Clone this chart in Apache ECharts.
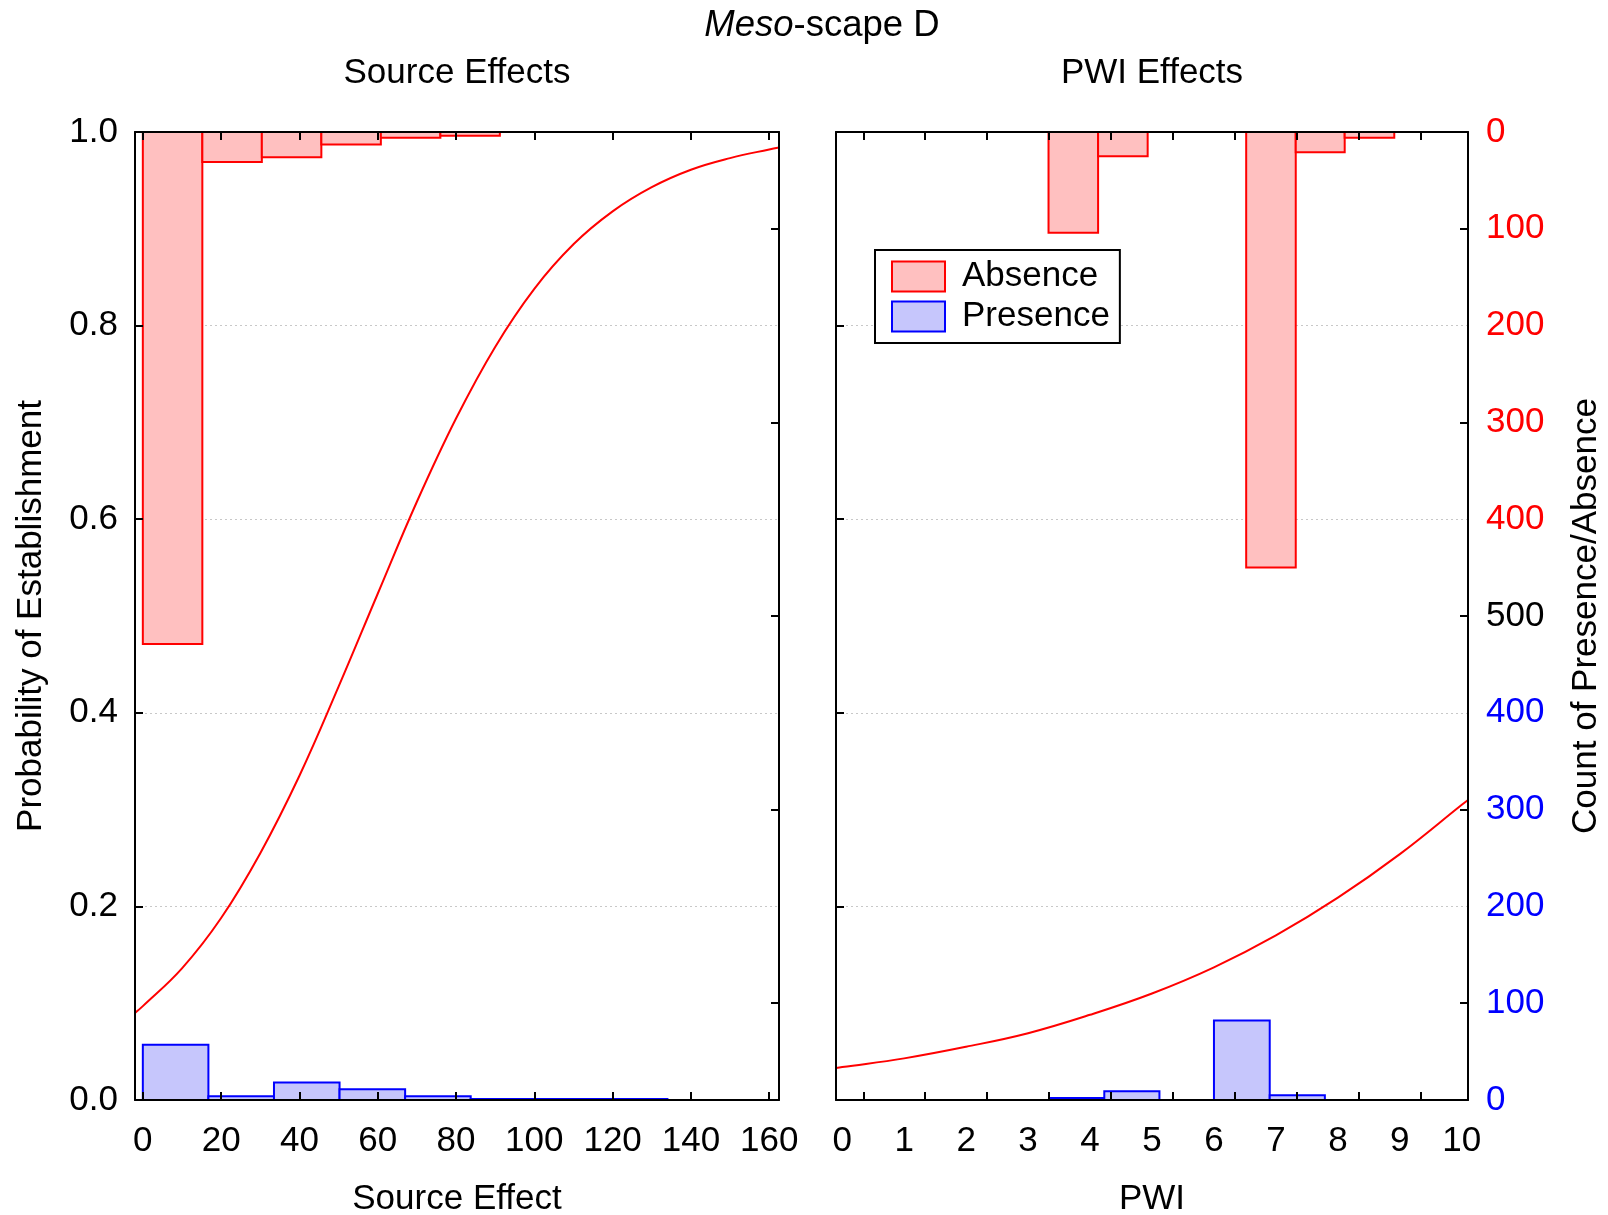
<!DOCTYPE html>
<html>
<head>
<meta charset="utf-8">
<script src="https://cdn.jsdelivr.net/npm/echarts@6/dist/echarts.min.js"></script>
<style>
html,body{margin:0;padding:0;background:#fff;}
#c{width:1608px;height:1215px;}
</style>
</head>
<body>
<div id="c"></div>
<script>
// ---- data ----
const srcAbsEdges = [0, 15.2, 30.4, 45.6, 60.8, 76.0, 91.2];
const srcAbsCounts = [529, 31, 26, 13, 6, 4];
const srcPresEdges = [0, 16.75, 33.5, 50.25, 67.0, 83.75, 100.5, 117.25, 134.0];
const srcPresCounts = [57, 4, 18, 11, 4, 1, 1, 1];

const pwiAbsEdges = [3.33, 4.13, 4.93, 5.72, 6.52, 7.32, 8.11, 8.91];
const pwiAbsCounts = [104, 25, 0, 0, 450, 21, 6];
const pwiPresEdges = [3.35, 4.23, 5.12, 6.0, 6.9, 7.79];
const pwiPresCounts = [2, 9, 0, 82, 5];

const srcCurveX = [-2, 0, 10, 20, 30, 40, 50, 60, 70, 80, 90, 100, 110, 120, 130, 140, 150, 160, 162.5];
const srcCurveY = [0.090, 0.097, 0.136, 0.188, 0.255, 0.335, 0.427, 0.523, 0.618, 0.704, 0.778, 0.838, 0.884, 0.918, 0.943, 0.961, 0.973, 0.982, 0.984];
const pwiCurveX = [-0.1, 0, 1, 2, 3, 4, 5, 6, 7, 8, 9, 10, 10.1];
const pwiCurveY = [0.033, 0.034, 0.043, 0.055, 0.069, 0.088, 0.110, 0.137, 0.170, 0.209, 0.254, 0.305, 0.310];

const srcTicks = [0, 20, 40, 60, 80, 100, 120, 140, 160];
const pwiLabels = [0, 1, 2, 3, 4, 5, 6, 7, 8, 9, 10];
const pwiTicks = [0.34, 1.34, 2.34, 3.34, 4.34, 5.34, 6.34, 7.34, 8.34, 9.34];
const countLabels = [0, 100, 200, 300, 400, 500, 600, 700, 800, 900, 1000];
const countTicks = [100, 300, 500, 700, 900];
const probTicks = [0.2, 0.4, 0.6, 0.8];

// ---- chart ----
const F = "'Liberation Sans', Arial, Helvetica, sans-serif";
const FS = 35;
const RED = '#ff0000', BLUE = '#0000ff';
const RED_FILL = 'rgb(255,192,192)', BLUE_FILL = 'rgb(198,198,252)';

const chart = echarts.init(document.getElementById('c'), null, {renderer: 'canvas'});

function bins(edges, counts) { return counts.map((c, i) => [edges[i], edges[i + 1], c]); }
function rectItem(params, api) {
  const c = api.value(2);
  if (!c) return null;
  const a = api.coord([api.value(0), 0]);
  const b = api.coord([api.value(1), c]);
  return {
    type: 'rect',
    shape: {x: a[0], y: Math.min(a[1], b[1]), width: b[0] - a[0], height: Math.abs(b[1] - a[1])},
    style: api.style()
  };
}
const lineBlack = {show: true, lineStyle: {color: '#000', width: 2}};
const tickIn = (vals) => ({show: true, inside: true, length: 8, customValues: vals, lineStyle: {color: '#000', width: 2}});

const grids = [
  {left: 135, top: 132, width: 644, height: 968, outerBoundsMode: 'none', containLabel: false},
  {left: 836, top: 132, width: 632, height: 968, outerBoundsMode: 'none', containLabel: false}
];

const xAxes = [
  {gridIndex: 0, type: 'value', position: 'bottom', min: -2, max: 162.5, z: 10,
   axisLine: Object.assign({onZero: false}, lineBlack), axisTick: tickIn(srcTicks),
   axisLabel: {customValues: srcTicks, fontSize: FS, fontFamily: F, color: '#000', margin: 24},
   splitLine: {show: false},
   name: 'Source Effect', nameLocation: 'middle', nameGap: 82,
   nameTextStyle: {fontSize: FS, fontFamily: F, color: '#000'}},
  {gridIndex: 0, type: 'value', position: 'top', min: -2, max: 162.5, z: 10,
   axisLine: Object.assign({onZero: false}, lineBlack), axisTick: tickIn(srcTicks),
   axisLabel: {show: false}, splitLine: {show: false}},
  {gridIndex: 1, type: 'value', position: 'bottom', min: -0.1, max: 10.1, z: 10,
   axisLine: Object.assign({onZero: false}, lineBlack), axisTick: tickIn(pwiTicks),
   axisLabel: {customValues: pwiLabels, fontSize: FS, fontFamily: F, color: '#000', margin: 24},
   splitLine: {show: false},
   name: 'PWI', nameLocation: 'middle', nameGap: 82,
   nameTextStyle: {fontSize: FS, fontFamily: F, color: '#000'}},
  {gridIndex: 1, type: 'value', position: 'top', min: -0.1, max: 10.1, z: 10,
   axisLine: Object.assign({onZero: false}, lineBlack), axisTick: tickIn(pwiTicks),
   axisLabel: {show: false}, splitLine: {show: false}}
];

function countColor(v) {
  v = Number(v);
  if (v < 500) return RED;
  if (v === 500) return '#000';
  return BLUE;
}

const yAxes = [
  {gridIndex: 0, type: 'value', position: 'left', min: 0, max: 1, z: 10,
   axisLine: Object.assign({onZero: false}, lineBlack), axisTick: tickIn(probTicks),
   axisLabel: {customValues: [0, 0.2, 0.4, 0.6, 0.8, 1.0], formatter: v => Number(v).toFixed(1),
               fontSize: FS, fontFamily: F, color: '#000', margin: 17, padding: [3, 0, 0, 0]},
   splitLine: {show: false},
   name: 'Probability of Establishment', nameLocation: 'middle', nameGap: 86, nameRotate: 90,
   nameTextStyle: {fontSize: FS, fontFamily: F, color: '#000'}},
  {gridIndex: 0, type: 'value', position: 'right', min: 0, max: 1000, inverse: true, z: 10,
   axisLine: Object.assign({onZero: false}, lineBlack), axisTick: tickIn(countTicks),
   axisLabel: {show: false}, splitLine: {show: false}},
  {gridIndex: 0, type: 'value', position: 'left', min: 0, max: 1000, interval: 200, z: 0,
   axisLine: {show: false}, axisTick: {show: false}, axisLabel: {show: false},
   splitLine: {show: true, lineStyle: {color: '#c8c8c8', width: 1, type: [2, 3]}}},
  {gridIndex: 1, type: 'value', position: 'left', min: 0, max: 1, z: 10,
   axisLine: Object.assign({onZero: false}, lineBlack), axisTick: tickIn(probTicks),
   axisLabel: {show: false}, splitLine: {show: false}},
  {gridIndex: 1, type: 'value', position: 'right', min: 0, max: 1000, inverse: true, z: 10,
   axisLine: Object.assign({onZero: false}, lineBlack), axisTick: tickIn(countTicks),
   axisLabel: {customValues: countLabels, formatter: v => String(Number(v) <= 500 ? Number(v) : 1000 - Number(v)),
               color: countColor, fontSize: FS, fontFamily: F, margin: 18, padding: [5, 0, 0, 0]},
   splitLine: {show: false},
   name: 'Count of Presence/Absence', nameLocation: 'middle', nameGap: 101, nameRotate: 90,
   nameTextStyle: {fontSize: FS, fontFamily: F, color: '#000'}},
  {gridIndex: 1, type: 'value', position: 'left', min: 0, max: 1000, interval: 200, z: 0,
   axisLine: {show: false}, axisTick: {show: false}, axisLabel: {show: false},
   splitLine: {show: true, lineStyle: {color: '#c8c8c8', width: 1, type: [2, 3]}}}
];

const absStyle = {color: RED_FILL, borderColor: RED, borderWidth: 2};
const presStyle = {color: BLUE_FILL, borderColor: BLUE, borderWidth: 2};

function histSeries(name, xi, yi, edges, counts, style) {
  return {type: 'custom', name: name, xAxisIndex: xi, yAxisIndex: yi, renderItem: rectItem,
          itemStyle: style, encode: {x: [0, 1], y: 2}, data: bins(edges, counts), z: 3, silent: true, clip: true};
}
function curveSeries(xi, yi, xs, ys) {
  return {type: 'line', name: 'fit', xAxisIndex: xi, yAxisIndex: yi, smooth: 0.4, symbol: 'none',
          lineStyle: {color: RED, width: 2}, data: xs.map((x, i) => [x, ys[i]]), z: 4, silent: true};
}

const option = {
  backgroundColor: '#fff',
  animation: false,
  textStyle: {fontFamily: F},
  title: [
    {text: '{i|Meso}-scape D', left: 822, textAlign: 'center', top: 7, padding: 0,
     textStyle: {fontSize: 36.5, fontWeight: 'normal', color: '#000', fontFamily: F,
                 rich: {i: {fontStyle: 'italic', fontSize: 36.5, fontFamily: F, color: '#000'}}}},
    {text: 'Source Effects', left: 457, textAlign: 'center', top: 56, padding: 0,
     textStyle: {fontSize: FS, fontWeight: 'normal', color: '#000', fontFamily: F}},
    {text: 'PWI Effects', left: 1152, textAlign: 'center', top: 56, padding: 0,
     textStyle: {fontSize: FS, fontWeight: 'normal', color: '#000', fontFamily: F}}
  ],
  legend: {
    orient: 'vertical', left: 875, top: 250, padding: [9, 10, 9, 16],
    backgroundColor: '#fff', borderColor: '#000', borderWidth: 2,
    itemWidth: 53, itemHeight: 30, itemGap: 5, icon: 'rect',
    textStyle: {fontSize: FS, fontFamily: F, color: '#000', lineHeight: 30, padding: [0, 0, 0, 12]},
    selectedMode: false,
    data: [
      {name: 'Absence', itemStyle: absStyle},
      {name: 'Presence', itemStyle: presStyle}
    ]
  },
  grid: grids,
  xAxis: xAxes,
  yAxis: yAxes,
  series: [
    histSeries('Absence', 0, 1, srcAbsEdges, srcAbsCounts, absStyle),
    histSeries('Presence', 0, 2, srcPresEdges, srcPresCounts, presStyle),
    curveSeries(0, 0, srcCurveX, srcCurveY),
    histSeries('Absence', 2, 4, pwiAbsEdges, pwiAbsCounts, absStyle),
    histSeries('Presence', 2, 5, pwiPresEdges, pwiPresCounts, presStyle),
    curveSeries(2, 3, pwiCurveX, pwiCurveY)
  ]
};
chart.setOption(option);
</script>
</body>
</html>
